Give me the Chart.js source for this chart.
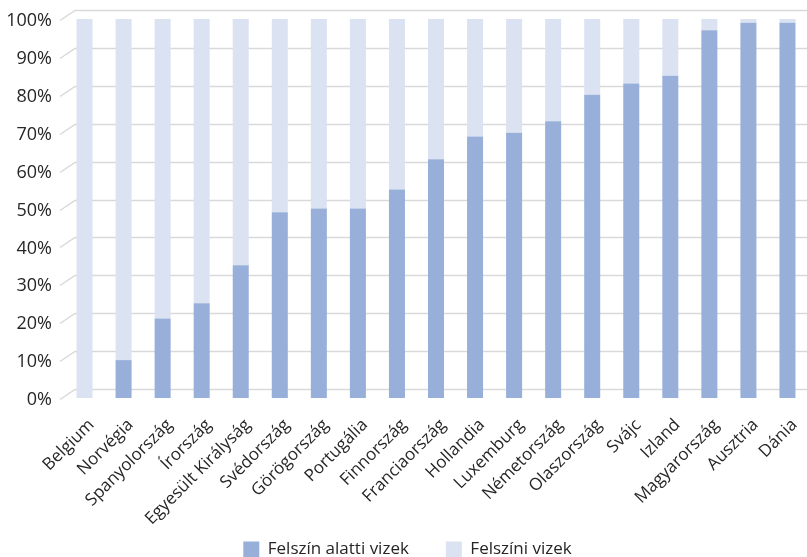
<!DOCTYPE html>
<html>
<head>
<meta charset="utf-8">
<script src="https://cdn.jsdelivr.net/npm/chart.js@4"></script>
<style>
  html, body { margin: 0; padding: 0; background: #ffffff; }
  #wrap { width: 807px; height: 557px; }
</style>
</head>
<body>
<div id="wrap"><canvas id="c" width="807" height="557"></canvas></div>
<script>
const categories = ["Belgium","Norvégia","Spanyolország","Írország","Egyesült Királyság","Svédország","Görögország","Portugália","Finnország","Franciaország","Hollandia","Luxemburg","Németország","Olaszország","Svájc","Izland","Magyarország","Ausztria","Dánia"];
const groundwater = [0,10,21,25,35,49,50,50,55,63,69,70,73,80,83,85,97,99,99];
const surfacewater = [100,90,79,75,65,51,50,50,45,37,31,30,27,20,17,15,3,1,1];
const yTicks = [0,10,20,30,40,50,60,70,80,90,100];
const seriesNames = ["Felszín alatti vizek","Felszíni vizek"];

const FONT = "'Open Sans', 'Liberation Sans', sans-serif";
const TEXT = "#262626";
const GRID = "#d9d9d9";

const wallGrid = {
  id: 'wallGrid',
  beforeDatasetsDraw(chart) {
    const {ctx, chartArea, scales} = chart;
    const y = scales.y;
    ctx.save();
    ctx.strokeStyle = GRID;
    ctx.lineWidth = 1.5;
    const x0 = chartArea.left - 5, dx = 15, dy = 10;
    yTicks.forEach(v => {
      const py = Math.round(y.getPixelForValue(v)) + 1.5;
      ctx.beginPath();
      ctx.moveTo(x0, py);
      ctx.lineTo(x0 + dx, py - dy);
      ctx.lineTo(chart.width, py - dy);
      ctx.stroke();
    });
    ctx.restore();
  }
};

new Chart(document.getElementById('c'), {
  type: 'bar',
  data: {
    labels: categories,
    datasets: [
      { label: seriesNames[0], data: groundwater, backgroundColor: '#97afd9', borderWidth: 0 },
      { label: seriesNames[1], data: surfacewater, backgroundColor: '#dbe2f1', borderWidth: 0 }
    ]
  },
  options: {
    responsive: false,
    animation: false,
    devicePixelRatio: 1,
    layout: { padding: { top: 19, right: -8, left: 0, bottom: -11 } },
    datasets: { bar: { categoryPercentage: 1, barPercentage: 0.41 } },
    plugins: {
      legend: {
        position: 'bottom',
        labels: {
          font: { family: FONT, size: 17 },
          color: TEXT,
          boxWidth: 16, boxHeight: 16,
          padding: 37
        }
      },
      tooltip: { enabled: false }
    },
    scales: {
      x: {
        stacked: true,
        grid: { display: false },
        border: { display: false },
        afterFit(scale) {
          scale.height = 106;
          scale.paddingRight = -8;
          scale.paddingLeft = 0;
          scale._computeLabelArea = function () { return undefined; };
        },
        ticks: {
          font: { family: FONT, size: 17 },
          color: TEXT,
          minRotation: 45, maxRotation: 45,
          padding: 9,
          labelOffset: 7,
          autoSkip: false
        }
      },
      y: {
        stacked: true,
        min: 0, max: 100,
        grid: { display: false },
        border: { display: false },
        afterFit(scale) {
          scale.width = 65;
          scale.paddingTop = 0;
          scale.paddingBottom = 0;
          scale.paddingRight = -8;
          scale._computeLabelArea = function () { return undefined; };
        },
        ticks: {
          stepSize: 10,
          font: { family: FONT, size: 18 },
          color: TEXT,
          padding: 5,
          labelOffset: 2,
          callback: v => v + '%'
        }
      }
    }
  },
  plugins: [wallGrid]
});
</script>
</body>
</html>
